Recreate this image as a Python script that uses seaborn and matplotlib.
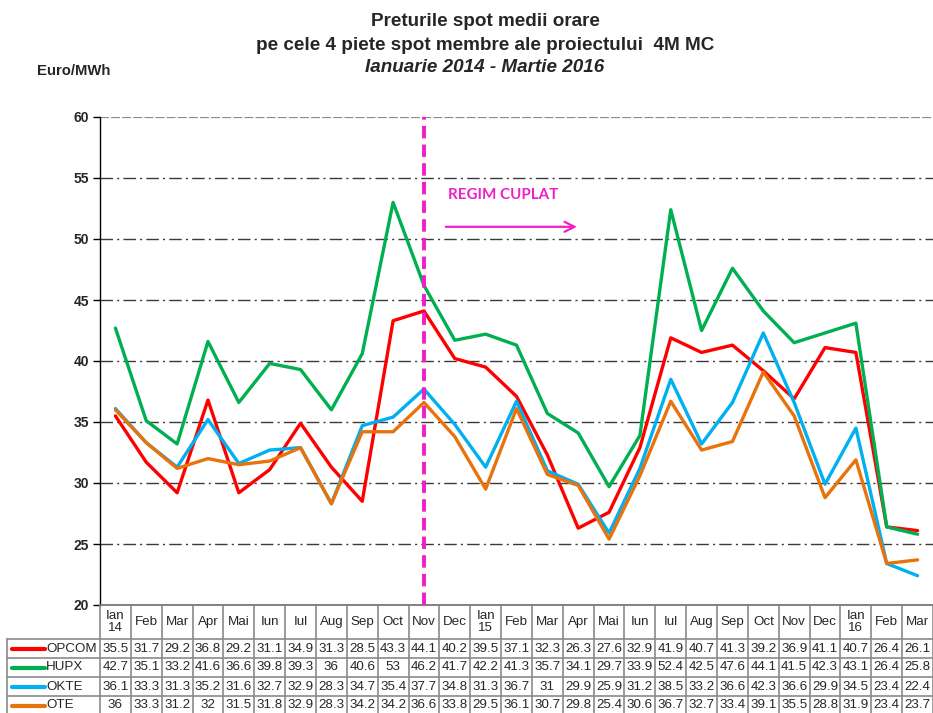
import matplotlib
matplotlib.use("Agg")
import matplotlib.pyplot as plt
import seaborn as sns
import pandas as pd
import numpy as np

months = ["Ian\n14", "Feb", "Mar", "Apr", "Mai", "Iun", "Iul", "Aug", "Sep", "Oct", "Nov", "Dec",
          "Ian\n15", "Feb", "Mar", "Apr", "Mai", "Iun", "Iul", "Aug", "Sep", "Oct", "Nov", "Dec",
          "Ian\n16", "Feb", "Mar"]
opcom = [35.5, 31.7, 29.2, 36.8, 29.2, 31.1, 34.9, 31.3, 28.5, 43.3, 44.1, 40.2,
         39.5, 37.1, 32.3, 26.3, 27.6, 32.9, 41.9, 40.7, 41.3, 39.2, 36.9, 41.1, 40.7, 26.4, 26.1]
hupx = [42.7, 35.1, 33.2, 41.6, 36.6, 39.8, 39.3, 36, 40.6, 53, 46.2, 41.7,
        42.2, 41.3, 35.7, 34.1, 29.7, 33.9, 52.4, 42.5, 47.6, 44.1, 41.5, 42.3, 43.1, 26.4, 25.8]
okte = [36.1, 33.3, 31.3, 35.2, 31.6, 32.7, 32.9, 28.3, 34.7, 35.4, 37.7, 34.8,
        31.3, 36.7, 31, 29.9, 25.9, 31.2, 38.5, 33.2, 36.6, 42.3, 36.6, 29.9, 34.5, 23.4, 22.4]
ote = [36, 33.3, 31.2, 32, 31.5, 31.8, 32.9, 28.3, 34.2, 34.2, 36.6, 33.8,
       29.5, 36.1, 30.7, 29.8, 25.4, 30.6, 36.7, 32.7, 33.4, 39.1, 35.5, 28.8, 31.9, 23.4, 23.7]
series_names = ["OPCOM", "HUPX", "OKTE", "OTE"]
series_values = [opcom, hupx, okte, ote]
colors = {"OPCOM": "#FF0000", "HUPX": "#00B050", "OKTE": "#00B0F0", "OTE": "#E8720C"}
coupling_month = 10  # Nov 2014

rows = []
for name, vals in zip(series_names, series_values):
    for i, v in enumerate(vals):
        rows.append({"idx": i, "value": v, "market": name})
df = pd.DataFrame(rows)

sns.set_style("white")
plt.rcParams['font.family'] = ['Liberation Sans', 'DejaVu Sans']

W, H = 933, 713
fig = plt.figure(figsize=(W / 100, H / 100), dpi=100)
ax_left, ax_right, ax_top, ax_bot = 100, 933, 117, 605
ax = fig.add_axes([ax_left / W, 1 - ax_bot / H, (ax_right - ax_left) / W, (ax_bot - ax_top) / H])

n = len(months)
sns.lineplot(data=df, x="idx", y="value", hue="market", hue_order=series_names,
             palette=colors, linewidth=2.4, ax=ax, legend=False, zorder=3)

ax.set_xlim(-0.5, n - 0.5)
ax.set_ylim(20, 60)
ax.set_yticks(np.arange(20, 61, 5))
ax.set_yticklabels([str(v) for v in range(20, 61, 5)], fontweight="bold", fontsize=10)
ax.set_xticks([])
ax.set_xlabel("")
ax.set_ylabel("")
ax.tick_params(axis="y", direction="out", length=5, width=1, color="black", left=True, pad=3)

for y in range(25, 60, 5):
    ax.axhline(y, color="#3a3a3a", lw=1.0, dashes=(9, 3, 1.5, 3), zorder=1)
ax.axhline(60, color="#8c8c8c", lw=1.6, dashes=(4, 1), zorder=1)

for s in ["top", "right"]:
    ax.spines[s].set_visible(False)
ax.spines["left"].set_color("black")
ax.spines["left"].set_linewidth(1.0)
ax.spines["bottom"].set_color("#808080")
ax.spines["bottom"].set_linewidth(1.2)

# coupling line
ax.axvline(coupling_month, color="#EE1FC8", lw=2.8, dashes=(3.2, 1.6), zorder=5)
ax.annotate("", xy=(15.05, 51.0), xytext=(10.62, 51.0),
            arrowprops=dict(arrowstyle="->", color="#EE1FC8", lw=1.6, mutation_scale=18))
ax.text(10.78, 53.6, "REGIM CUPLAT", color="#EE1FC8", fontsize=10.9, fontweight="bold",
        family=["Lato", "DejaVu Sans"], va="center", ha="left")

# titles
tx = 485 / W
fig.text(tx, 1 - 21 / H, "Preturile spot medii orare", ha="center", va="center",
         fontsize=13.6, fontweight="bold")
fig.text(tx, 1 - 45 / H, "pe cele 4 piete spot membre ale proiectului  4M MC", ha="center",
         va="center", fontsize=13.6, fontweight="bold")
fig.text(tx, 1 - 68 / H, "Ianuarie 2014 - Martie 2016", ha="center", va="center",
         fontsize=13.6, fontweight="bold", style="italic")
fig.text(37 / W, 1 - 71 / H, "Euro/MWh", ha="left", va="center", fontsize=10.7, fontweight="bold")

# data table
trans = ax.get_xaxis_transform()
ph = ax_bot - ax_top
def py(p):
    return (ax_bot - p) / ph
pxw = (ax_right - ax_left) / n
def px(p):
    return (p - ax_left) / pxw - 0.5

gcol = "#8a8a8a"
glw = 1.2
head_top, head_bot = 605, 639
row_edges = [639, 658, 677, 696, 715]
for k in range(n + 1):
    ax.plot([k - 0.5, k - 0.5], [py(head_top), py(row_edges[-1])], color=gcol, lw=glw,
            transform=trans, clip_on=False)
ax.plot([px(7), px(7)], [py(head_bot), py(row_edges[-1])], color=gcol, lw=glw,
        transform=trans, clip_on=False)
ax.plot([-0.5, n - 0.5], [py(head_top), py(head_top)], color=gcol, lw=glw,
        transform=trans, clip_on=False)
for e in row_edges[:-1]:
    ax.plot([px(7), n - 0.5], [py(e), py(e)], color=gcol, lw=glw, transform=trans, clip_on=False)

for i, m in enumerate(months):
    ax.text(i, py((head_top + head_bot) / 2), m, ha="center", va="center", fontsize=9.6,
            linespacing=1.0, transform=trans, clip_on=False)

for r, (name, vals) in enumerate(zip(series_names, series_values)):
    yc = py((row_edges[r] + row_edges[r + 1]) / 2)
    ax.plot([px(12), px(45)], [yc, yc], color=colors[name], lw=3, transform=trans,
            clip_on=False, solid_capstyle="round")
    ax.text(px(46), yc, name, ha="left", va="center", fontsize=9.6, transform=trans, clip_on=False)
    for i, v in enumerate(vals):
        ax.text(i, yc, f"{v:g}", ha="center", va="center", fontsize=9.6, transform=trans,
                clip_on=False)

fig.savefig("out.png", dpi=100)
